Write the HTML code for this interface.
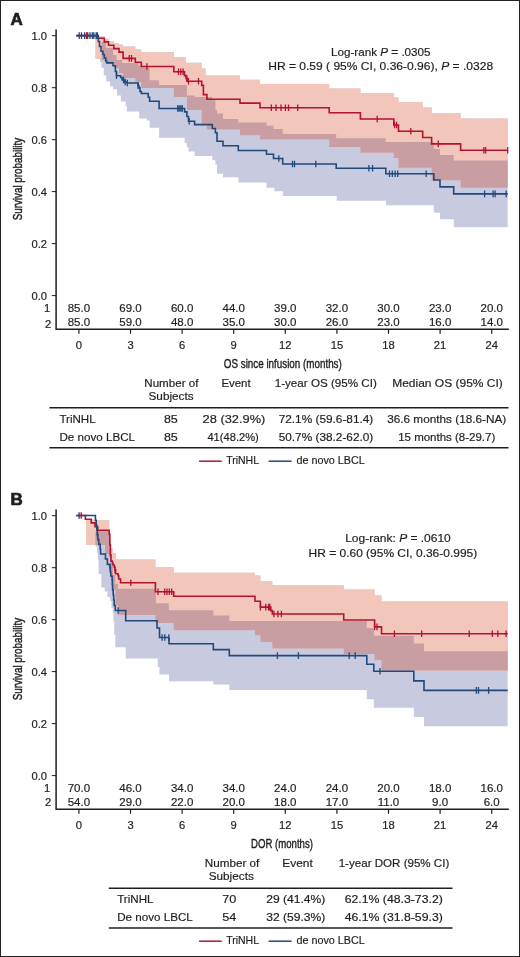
<!DOCTYPE html>
<html><head><meta charset="utf-8"><style>html,body{margin:0;padding:0;background:#fff;}svg{display:block;will-change:transform;}</style></head>
<body><svg width="520" height="957" viewBox="0 0 520 957" font-family='"Liberation Sans", sans-serif' fill="#1e1e1e">
<rect x="0.5" y="0.5" width="519" height="956" fill="#fff" stroke="#222" stroke-width="1"/>
<path d="M95.5,35.4H98.0V36.3H100.0V36.3H101.5V36.3H103.8V36.3H104.3V38.7H106.2V38.7H108.5V41.1H110.0V41.1H113.0V41.1H113.8V43.0H116.9V43.0H119.0V44.5H120.8V44.5H123.1V46.4H125.6V46.4H126.9V46.4H135.3V49.5H139.2V49.5H141.3V52.2H146.9V52.2H149.6V52.2H159.1V52.2H173.8V57.0H184.6V57.0H186.0V62.8H186.9V62.8H188.5V62.8H194.6V62.8H201.7V68.5H205.4V75.5H212.3V75.5H215.4V75.5H217.0V75.5H223.0V75.5H238.3V75.5H240.0V79.8H260.0V84.0H266.5V84.0H274.4V84.0H283.0V84.0H329.2V88.6H336.7V88.6H360.4V93.0H386.0V93.0H393.8V97.4H398.5V101.9H422.7V107.6H431.6V113.0H433.8V113.0H440.0V113.0H453.8V113.0H460.6V118.5H507.7V227.2H460.6V227.2H453.8V219.3H440.0V212.8H433.8V205.3H431.6V205.3H422.7V205.3H398.5V205.3H393.8V205.3H386.0V200.8H360.4V200.8H336.7V196.0H329.2V196.0H283.0V191.2H274.4V187.7H266.5V182.5H260.0V182.5H240.0V182.5H238.3V177.3H223.0V173.8H217.0V164.5H215.4V160.2H212.3V155.9H205.4V155.9H201.7V155.9H194.6V151.5H188.5V147.2H186.9V142.9H186.0V142.9H184.6V137.7H173.8V137.7H159.1V127.7H149.6V120.5H146.9V118.5H141.3V118.5H139.2V111.5H135.3V111.5H126.9V106.2H125.6V101.5H123.1V101.5H120.8V95.4H119.0V95.4H116.9V89.2H113.8V89.2H113.0V86.2H110.0V81.5H108.5V81.5H106.2V75.4H104.3V75.4H103.8V67.7H101.5V62.0H100.0V58.8H98.0V58.8H95.5Z" fill="#c8cae0"/>
<path d="M95.5,35.4H98.0V36.3H101.5V36.3H104.3V38.7H108.5V41.1H113.8V43.0H119.0V44.5H123.1V46.4H135.3V49.5H141.3V52.2H173.8V57.0H186.0V62.8H187.0V62.8H201.7V68.5H205.4V75.5H206.9V75.5H240.0V79.8H260.0V84.0H329.2V88.6H360.4V93.0H393.8V97.4H398.5V101.9H422.7V107.6H431.6V113.0H460.6V118.5H507.7V187.7H460.6V180.2H431.6V167.7H422.7V167.7H398.5V158.0H393.8V152.7H360.4V147.0H329.2V139.6H260.0V135.2H240.0V129.5H206.9V124.0H205.4V124.0H201.7V110.0H187.0V97.0H186.0V97.0H173.8V88.0H141.3V82.0H135.3V78.0H123.1V73.0H119.0V68.0H113.8V64.0H108.5V62.0H104.3V60.0H101.5V58.8H98.0V58.8H95.5Z" fill="#f2c6ba"/>
<path d="M101.5,42.0H104.3V42.0H105.8V48.0H108.5V48.0H113.0V55.0H113.8V55.0H116.5V60.0H119.0V60.0H122.1V63.0H123.1V63.0H135.3V63.0H138.1V65.5H141.3V65.5H141.4V67.5H149.6V80.2H159.1V85.0H173.8V85.0H186.9V95.5H187.0V95.5H194.6V97.0H201.7V97.0H206.9V97.0H212.3V100.3H215.4V110.0H217.0V113.4H223.0V118.9H238.3V122.6H240.0V122.6H260.0V122.6H266.5V125.7H273.5V128.9H282.7V134.0H329.2V134.0H336.2V138.3H360.4V138.3H385.8V142.0H393.8V142.0H398.5V142.0H431.6V142.0H433.8V149.0H440.0V155.1H453.7V160.5H460.6V160.5H507.7V187.7H460.6V180.2H453.7V180.2H440.0V180.2H433.8V180.2H431.6V167.7H398.5V158.0H393.8V152.7H385.8V152.7H360.4V147.0H336.2V147.0H329.2V139.6H282.7V139.6H273.5V139.6H266.5V139.6H260.0V135.2H240.0V129.5H238.3V129.5H223.0V129.5H217.0V129.5H215.4V129.5H212.3V129.5H206.9V124.0H201.7V110.0H194.6V110.0H187.0V97.0H186.9V97.0H173.8V88.0H159.1V88.0H149.6V88.0H141.4V88.0H141.3V82.0H138.1V82.0H135.3V78.0H123.1V73.0H122.1V73.0H119.0V68.0H116.5V68.0H113.8V64.0H113.0V64.0H108.5V62.0H105.8V62.0H104.3V60.0H101.5Z" fill="#c99ea3"/>
<path d="M76.3,35.6H98.0V38.3H104.3V41.9H108.5V45.3H113.8V48.6H119.0V52.1H123.1V58.4H135.3V62.3H141.3V66.5H173.8V71.7H184.5V75.6H186.0V78.5H187.0V81.2H201.7V85.4H203.4V94.6H206.9V99.2H240.0V103.1H260.0V107.7H329.2V112.8H360.4V119.0H393.8V125.0H398.5V131.3H422.7V137.5H431.6V143.9H460.6V150.3H507.7" stroke="#b31230" stroke-width="1.6" fill="none"/>
<path d="M76.3,35.6H98.3V41.5H99.5V46.5H101.0V51.3H102.9V54.5H104.3V58.0H105.8V61.0H106.7V62.9H113.0V65.8H115.4V71.5H116.5V75.7H120.7V77.5H122.1V80.0H124.3V82.0H127.0V83.0H138.1V85.8H139.0V87.7H140.0V91.5H141.4V93.5H148.2V97.3H149.6V101.2H159.1V108.5H184.6V111.9H186.9V116.5H188.5V121.2H194.6V124.6H212.3V128.5H215.4V132.7H217.0V141.2H223.0V145.8H238.3V150.5H266.5V154.3H273.5V158.5H282.7V164.0H336.2V168.3H385.8V173.8H433.8V180.0H440.0V186.9H453.7V193.9H507.7" stroke="#1f4a7b" stroke-width="1.6" fill="none"/>
<path d="M86.5,32.3V38.9M129.2,55.1V61.7M131.5,55.1V61.7M146.9,63.2V69.8M178.5,68.4V75.0M180.8,68.4V75.0M183.1,68.4V75.0M186.9,75.2V81.8M188.5,77.9V84.5M198.5,77.9V84.5M271.3,104.4V111.0M276.0,104.4V111.0M281.0,104.4V111.0M285.4,104.4V111.0M288.5,104.4V111.0M297.7,104.4V111.0M377.2,115.7V122.3M394.6,121.7V128.3M396.6,121.7V128.3M410.8,128.0V134.6M438.3,140.6V147.2M483.8,147.0V153.6M485.6,147.0V153.6M507.7,147.0V153.6" stroke="#b31230" stroke-width="1.3" fill="none"/>
<path d="M79.2,32.3V38.9M81.5,32.3V38.9M84.6,32.3V38.9M87.7,32.3V38.9M90.0,32.3V38.9M92.3,32.3V38.9M93.8,32.3V38.9M96.2,32.3V38.9M97.3,32.3V38.9M116.5,72.4V79.0M123.5,76.7V83.3M125.2,78.7V85.3M127.3,79.7V86.3M138.1,82.5V89.1M177.7,105.2V111.8M179.2,105.2V111.8M180.8,105.2V111.8M182.3,105.2V111.8M189.2,117.9V124.5M278.8,155.2V161.8M292.5,160.7V167.3M294.5,160.7V167.3M315.8,160.7V167.3M368.9,165.0V171.6M372.6,165.0V171.6M389.5,170.5V177.1M392.3,170.5V177.1M395.1,170.5V177.1M397.7,170.5V177.1M426.2,170.5V177.1M484.6,190.6V197.2M493.1,190.6V197.2M495.1,190.6V197.2M506.2,190.6V197.2" stroke="#1f4a7b" stroke-width="1.3" fill="none"/>
<path d="M86.0,519.6H93.7V520.3H95.8V520.3H97.2V520.3H97.9V520.3H98.6V520.3H101.3V520.3H104.7V520.3H107.4V520.3H109.2V540.0H110.1V540.0H111.0V548.0H111.5V548.0H112.6V553.0H112.9V553.0H113.5V553.0H114.2V553.0H115.3V553.0H115.8V559.5H125.7V559.5H155.4V567.3H157.7V567.3H159.5V567.3H169.0V567.3H173.7V572.7H213.3V572.7H229.3V572.7H255.0V575.6H260.4V581.0H272.3V585.2H343.7V589.6H366.8V589.6H373.8V589.6H374.6V595.4H381.5V601.5H413.8V601.5H424.0V601.5H507.7V726.2H424.0V716.9H413.8V707.7H381.5V707.7H374.6V707.7H373.8V699.3H366.8V690.0H343.7V690.0H272.3V690.0H260.4V690.0H255.0V690.0H229.3V684.5H213.3V681.3H173.7V681.3H169.0V674.6H159.5V667.0H157.7V658.5H155.4V658.5H125.7V647.3H115.8V647.3H115.3V635.1H114.2V621.5H113.5V613.4H112.9V608.0H112.6V608.0H111.5V601.1H111.0V601.1H110.1V597.1H109.2V597.1H107.4V591.6H104.7V587.6H101.3V574.0H98.6V560.4H97.9V553.6H97.2V546.8H95.8V542.7H93.7V542.7H86.0Z" fill="#c8cae0"/>
<path d="M86.0,519.6H93.7V520.3H95.4V520.3H105.0V520.3H109.2V540.0H111.0V548.0H112.6V553.0H113.0V553.0H115.5V553.0H115.8V559.5H118.0V559.5H155.4V567.3H173.7V572.7H255.0V575.6H260.4V581.0H272.3V585.2H343.7V589.6H374.6V595.4H381.5V601.5H507.7V670.4H381.5V660.0H374.6V654.0H343.7V648.5H272.3V641.9H260.4V635.2H255.0V630.3H173.7V623.0H155.4V615.0H118.0V605.0H115.8V605.0H115.5V590.0H113.0V575.0H112.6V575.0H111.0V558.0H109.2V554.0H105.0V545.0H95.4V545.0H93.7V545.0H86.0Z" fill="#f2c6ba"/>
<path d="M95.4,532.0H105.0V532.0H109.2V545.0H111.0V560.0H113.0V575.0H115.3V584.0H115.5V584.0H118.0V588.7H155.4V588.7H155.9V603.3H168.8V610.2H173.7V610.2H213.3V615.5H229.3V621.0H255.0V621.0H260.4V621.0H272.3V621.0H343.7V621.0H366.8V628.0H373.8V635.8H374.6V635.8H381.5V635.8H413.8V643.5H424.0V651.2H507.7V670.4H424.0V670.4H413.8V670.4H381.5V660.0H374.6V654.0H373.8V654.0H366.8V654.0H343.7V648.5H272.3V641.9H260.4V635.2H255.0V630.3H229.3V630.3H213.3V630.3H173.7V623.0H168.8V623.0H155.9V623.0H155.4V615.0H118.0V605.0H115.5V590.0H115.3V590.0H113.0V575.0H111.0V558.0H109.2V554.0H105.0V545.0H95.4Z" fill="#c99ea3"/>
<path d="M76.3,515.5H85.4V519.2H91.2V522.9H95.0V526.7H97.7V530.4H109.2V534.0H109.8V545.0H110.4V555.0H111.0V561.3H112.4V563.0H113.0V565.0H114.3V567.2H114.8V569.8H115.6V573.8H118.1V575.8H118.7V579.0H120.6V582.7H155.4V591.7H173.7V596.3H255.0V601.2H260.4V607.1H270.8V610.6H272.3V614.0H343.7V620.0H374.6V626.9H381.5V633.8H507.7" stroke="#b31230" stroke-width="1.6" fill="none"/>
<path d="M76.3,515.5H95.4V520.3H96.2V525.1H96.8V530.0H97.3V534.8H97.8V539.6H98.8V544.4H100.2V549.2H100.6V554.0H105.5V559.0H107.4V564.4H110.0V567.5H110.4V572.0H110.8V576.0H112.1V580.0H112.3V585.0H112.6V590.0H113.2V595.0H113.7V600.0H114.2V605.5H115.3V610.5H125.7V620.8H157.0V628.0H159.5V637.5H169.0V643.7H213.3V649.6H229.3V655.6H366.8V664.2H373.8V671.3H413.8V680.9H424.0V690.4H507.7" stroke="#1f4a7b" stroke-width="1.6" fill="none"/>
<path d="M81.2,512.2V518.8M115.0,566.5V573.1M130.8,579.4V586.0M158.0,588.4V595.0M164.7,588.4V595.0M167.0,588.4V595.0M169.3,588.4V595.0M171.7,588.4V595.0M260.4,603.8V610.4M265.8,603.8V610.4M268.5,603.8V610.4M269.8,603.8V610.4M273.9,610.7V617.3M277.9,610.7V617.3M281.4,610.7V617.3M374.6,623.6V630.2M377.0,623.6V630.2M394.4,630.5V637.1M421.7,630.5V637.1M469.2,630.5V637.1M492.3,630.5V637.1M497.8,630.5V637.1M506.1,630.5V637.1" stroke="#b31230" stroke-width="1.3" fill="none"/>
<path d="M79.1,512.2V518.8M97.5,531.5V538.1M110.2,564.2V570.8M118.2,607.2V613.8M162.1,634.2V640.8M164.8,634.2V640.8M168.8,634.2V640.8M277.4,652.3V658.9M298.4,652.3V658.9M349.2,652.3V658.9M355.2,652.3V658.9M380.0,668.0V674.6M476.3,687.1V693.7M478.5,687.1V693.7M488.6,687.1V693.7" stroke="#1f4a7b" stroke-width="1.3" fill="none"/>
<g stroke="#1e1e1e" stroke-width="0.18">
<text x="10.4" y="24.9" font-size="17.0" text-anchor="start" font-weight="bold" stroke-width="0.7">A</text>
<path d="M56.1,29.5 V329.3 H508.8" fill="none" stroke="#1e1e1e" stroke-width="1.5"/>
<path d="M51.8,35.7 H56" stroke="#1e1e1e" stroke-width="1"/>
<text x="47" y="39.600000000000044" font-size="11.2" text-anchor="end" >1.0</text>
<path d="M51.8,87.7 H56" stroke="#1e1e1e" stroke-width="1"/>
<text x="47" y="91.58000000000004" font-size="11.2" text-anchor="end" >0.8</text>
<path d="M51.8,139.7 H56" stroke="#1e1e1e" stroke-width="1"/>
<text x="47" y="143.56000000000006" font-size="11.2" text-anchor="end" >0.6</text>
<path d="M51.8,191.6 H56" stroke="#1e1e1e" stroke-width="1"/>
<text x="47" y="195.54000000000005" font-size="11.2" text-anchor="end" >0.4</text>
<path d="M51.8,243.6 H56" stroke="#1e1e1e" stroke-width="1"/>
<text x="47" y="247.52000000000004" font-size="11.2" text-anchor="end" >0.2</text>
<path d="M51.8,295.6 H56" stroke="#1e1e1e" stroke-width="1"/>
<text x="47" y="299.5" font-size="11.2" text-anchor="end" >0.0</text>
<path d="M78.9,329.3 V333.7" stroke="#1e1e1e" stroke-width="1.2"/>
<text x="78.9" y="348.6" font-size="11.2" text-anchor="middle" >0</text>
<text x="78.9" y="311.9" font-size="11.5" text-anchor="middle" >85.0</text>
<text x="78.9" y="325.5" font-size="11.5" text-anchor="middle" >85.0</text>
<path d="M130.5,329.3 V333.7" stroke="#1e1e1e" stroke-width="1.2"/>
<text x="130.5" y="348.6" font-size="11.2" text-anchor="middle" >3</text>
<text x="130.5" y="311.9" font-size="11.5" text-anchor="middle" >69.0</text>
<text x="130.5" y="325.5" font-size="11.5" text-anchor="middle" >59.0</text>
<path d="M182.1,329.3 V333.7" stroke="#1e1e1e" stroke-width="1.2"/>
<text x="182.1" y="348.6" font-size="11.2" text-anchor="middle" >6</text>
<text x="182.1" y="311.9" font-size="11.5" text-anchor="middle" >60.0</text>
<text x="182.1" y="325.5" font-size="11.5" text-anchor="middle" >48.0</text>
<path d="M233.7,329.3 V333.7" stroke="#1e1e1e" stroke-width="1.2"/>
<text x="233.7" y="348.6" font-size="11.2" text-anchor="middle" >9</text>
<text x="233.7" y="311.9" font-size="11.5" text-anchor="middle" >44.0</text>
<text x="233.7" y="325.5" font-size="11.5" text-anchor="middle" >35.0</text>
<path d="M285.3,329.3 V333.7" stroke="#1e1e1e" stroke-width="1.2"/>
<text x="285.3" y="348.6" font-size="11.2" text-anchor="middle" >12</text>
<text x="285.3" y="311.9" font-size="11.5" text-anchor="middle" >39.0</text>
<text x="285.3" y="325.5" font-size="11.5" text-anchor="middle" >30.0</text>
<path d="M336.9,329.3 V333.7" stroke="#1e1e1e" stroke-width="1.2"/>
<text x="336.9" y="348.6" font-size="11.2" text-anchor="middle" >15</text>
<text x="336.9" y="311.9" font-size="11.5" text-anchor="middle" >32.0</text>
<text x="336.9" y="325.5" font-size="11.5" text-anchor="middle" >26.0</text>
<path d="M388.5,329.3 V333.7" stroke="#1e1e1e" stroke-width="1.2"/>
<text x="388.5" y="348.6" font-size="11.2" text-anchor="middle" >18</text>
<text x="388.5" y="311.9" font-size="11.5" text-anchor="middle" >30.0</text>
<text x="388.5" y="325.5" font-size="11.5" text-anchor="middle" >23.0</text>
<path d="M440.1,329.3 V333.7" stroke="#1e1e1e" stroke-width="1.2"/>
<text x="440.1" y="348.6" font-size="11.2" text-anchor="middle" >21</text>
<text x="440.1" y="311.9" font-size="11.5" text-anchor="middle" >23.0</text>
<text x="440.1" y="325.5" font-size="11.5" text-anchor="middle" >16.0</text>
<path d="M491.7,329.3 V333.7" stroke="#1e1e1e" stroke-width="1.2"/>
<text x="491.7" y="348.6" font-size="11.2" text-anchor="middle" >24</text>
<text x="491.7" y="311.9" font-size="11.5" text-anchor="middle" >20.0</text>
<text x="491.7" y="325.5" font-size="11.5" text-anchor="middle" >14.0</text>
<text x="50.3" y="312.0" font-size="11.2" text-anchor="end" >1</text>
<text x="51.2" y="327.5" font-size="11.2" text-anchor="end" >2</text>
<text transform="translate(21.6,179.1) rotate(-90)" font-size="13.2" text-anchor="middle" textLength="82.5" lengthAdjust="spacingAndGlyphs" stroke="#1e1e1e" stroke-width="0.45">Survival probability</text>
<text x="223.8" y="367.6" font-size="13.4" textLength="118.0" lengthAdjust="spacingAndGlyphs" stroke="#1e1e1e" stroke-width="0.4">OS since infusion (months)</text>
<text x="331.0" y="56.0" font-size="11.4" textLength="99.6" lengthAdjust="spacingAndGlyphs" >Log-rank <tspan font-style="italic">P</tspan> = .0305</text>
<text x="268.2" y="70.0" font-size="11.4" textLength="224.9" lengthAdjust="spacingAndGlyphs" >HR = 0.59 ( 95% CI, 0.36-0.96), <tspan font-style="italic">P</tspan> = .0328</text>
<text x="10.4" y="504.9" font-size="17.0" text-anchor="start" font-weight="bold" stroke-width="0.7">B</text>
<path d="M56.1,509.5 V809.3 H508.8" fill="none" stroke="#1e1e1e" stroke-width="1.5"/>
<path d="M51.8,515.7 H56" stroke="#1e1e1e" stroke-width="1"/>
<text x="47" y="519.6" font-size="11.2" text-anchor="end" >1.0</text>
<path d="M51.8,567.7 H56" stroke="#1e1e1e" stroke-width="1"/>
<text x="47" y="571.58" font-size="11.2" text-anchor="end" >0.8</text>
<path d="M51.8,619.7 H56" stroke="#1e1e1e" stroke-width="1"/>
<text x="47" y="623.5600000000001" font-size="11.2" text-anchor="end" >0.6</text>
<path d="M51.8,671.6 H56" stroke="#1e1e1e" stroke-width="1"/>
<text x="47" y="675.5400000000001" font-size="11.2" text-anchor="end" >0.4</text>
<path d="M51.8,723.6 H56" stroke="#1e1e1e" stroke-width="1"/>
<text x="47" y="727.52" font-size="11.2" text-anchor="end" >0.2</text>
<path d="M51.8,775.6 H56" stroke="#1e1e1e" stroke-width="1"/>
<text x="47" y="779.5" font-size="11.2" text-anchor="end" >0.0</text>
<path d="M78.9,809.3 V813.7" stroke="#1e1e1e" stroke-width="1.2"/>
<text x="78.9" y="828.6" font-size="11.2" text-anchor="middle" >0</text>
<text x="78.9" y="791.9" font-size="11.5" text-anchor="middle" >70.0</text>
<text x="78.9" y="805.5" font-size="11.5" text-anchor="middle" >54.0</text>
<path d="M130.5,809.3 V813.7" stroke="#1e1e1e" stroke-width="1.2"/>
<text x="130.5" y="828.6" font-size="11.2" text-anchor="middle" >3</text>
<text x="130.5" y="791.9" font-size="11.5" text-anchor="middle" >46.0</text>
<text x="130.5" y="805.5" font-size="11.5" text-anchor="middle" >29.0</text>
<path d="M182.1,809.3 V813.7" stroke="#1e1e1e" stroke-width="1.2"/>
<text x="182.1" y="828.6" font-size="11.2" text-anchor="middle" >6</text>
<text x="182.1" y="791.9" font-size="11.5" text-anchor="middle" >34.0</text>
<text x="182.1" y="805.5" font-size="11.5" text-anchor="middle" >22.0</text>
<path d="M233.7,809.3 V813.7" stroke="#1e1e1e" stroke-width="1.2"/>
<text x="233.7" y="828.6" font-size="11.2" text-anchor="middle" >9</text>
<text x="233.7" y="791.9" font-size="11.5" text-anchor="middle" >34.0</text>
<text x="233.7" y="805.5" font-size="11.5" text-anchor="middle" >20.0</text>
<path d="M285.3,809.3 V813.7" stroke="#1e1e1e" stroke-width="1.2"/>
<text x="285.3" y="828.6" font-size="11.2" text-anchor="middle" >12</text>
<text x="285.3" y="791.9" font-size="11.5" text-anchor="middle" >24.0</text>
<text x="285.3" y="805.5" font-size="11.5" text-anchor="middle" >18.0</text>
<path d="M336.9,809.3 V813.7" stroke="#1e1e1e" stroke-width="1.2"/>
<text x="336.9" y="828.6" font-size="11.2" text-anchor="middle" >15</text>
<text x="336.9" y="791.9" font-size="11.5" text-anchor="middle" >24.0</text>
<text x="336.9" y="805.5" font-size="11.5" text-anchor="middle" >17.0</text>
<path d="M388.5,809.3 V813.7" stroke="#1e1e1e" stroke-width="1.2"/>
<text x="388.5" y="828.6" font-size="11.2" text-anchor="middle" >18</text>
<text x="388.5" y="791.9" font-size="11.5" text-anchor="middle" >20.0</text>
<text x="388.5" y="805.5" font-size="11.5" text-anchor="middle" >11.0</text>
<path d="M440.1,809.3 V813.7" stroke="#1e1e1e" stroke-width="1.2"/>
<text x="440.1" y="828.6" font-size="11.2" text-anchor="middle" >21</text>
<text x="440.1" y="791.9" font-size="11.5" text-anchor="middle" >18.0</text>
<text x="440.1" y="805.5" font-size="11.5" text-anchor="middle" >9.0</text>
<path d="M491.7,809.3 V813.7" stroke="#1e1e1e" stroke-width="1.2"/>
<text x="491.7" y="828.6" font-size="11.2" text-anchor="middle" >24</text>
<text x="491.7" y="791.9" font-size="11.5" text-anchor="middle" >16.0</text>
<text x="491.7" y="805.5" font-size="11.5" text-anchor="middle" >6.0</text>
<text x="50.3" y="792.0" font-size="11.2" text-anchor="end" >1</text>
<text x="51.2" y="805.7" font-size="11.2" text-anchor="end" >2</text>
<text transform="translate(21.6,659.1) rotate(-90)" font-size="13.2" text-anchor="middle" textLength="82.5" lengthAdjust="spacingAndGlyphs" stroke="#1e1e1e" stroke-width="0.45">Survival probability</text>
<text x="251.0" y="847.6" font-size="13.4" textLength="61.9" lengthAdjust="spacingAndGlyphs" stroke="#1e1e1e" stroke-width="0.4">DOR (months)</text>
<text x="345.2" y="541.8" font-size="11.4" textLength="105.6" lengthAdjust="spacingAndGlyphs" >Log-rank: <tspan font-style="italic">P</tspan> = .0610</text>
<text x="308.6" y="556.7" font-size="11.4" textLength="168.6" lengthAdjust="spacingAndGlyphs" >HR = 0.60 (95% CI, 0.36-0.995)</text>
<text x="144.3" y="387" font-size="11.4" textLength="54.1" lengthAdjust="spacingAndGlyphs" >Number of</text>
<text x="148.5" y="400.4" font-size="11.4" textLength="45.1" lengthAdjust="spacingAndGlyphs" >Subjects</text>
<text x="221.4" y="387" font-size="11.4" textLength="29.2" lengthAdjust="spacingAndGlyphs" >Event</text>
<text x="274.7" y="387" font-size="11.4" textLength="102.1" lengthAdjust="spacingAndGlyphs" >1-year OS (95% CI)</text>
<text x="392.2" y="387" font-size="11.4" textLength="110.6" lengthAdjust="spacingAndGlyphs" >Median OS (95% CI)</text>
<path d="M49.4,407.7 H508.5" stroke="#1e1e1e" stroke-width="1.5"/>
<path d="M49.4,447.8 H508.5" stroke="#1e1e1e" stroke-width="1.5"/>
<text x="59.4" y="423.3" font-size="11.4" textLength="36.2" lengthAdjust="spacingAndGlyphs" >TriNHL</text>
<text x="59.4" y="440.8" font-size="11.4" textLength="75.7" lengthAdjust="spacingAndGlyphs" >De novo LBCL</text>
<text x="163.9" y="423.3" font-size="11.4" textLength="13.9" lengthAdjust="spacingAndGlyphs" >85</text>
<text x="163.9" y="440.8" font-size="11.4" textLength="13.9" lengthAdjust="spacingAndGlyphs" >85</text>
<text x="202.6" y="423.3" font-size="11.4" textLength="62.7" lengthAdjust="spacingAndGlyphs" >28 (32.9%)</text>
<text x="207.4" y="440.8" font-size="11.4" textLength="51.4" lengthAdjust="spacingAndGlyphs" >41(48.2%)</text>
<text x="278.7" y="423.3" font-size="11.4" textLength="94.6" lengthAdjust="spacingAndGlyphs" >72.1% (59.6-81.4)</text>
<text x="278.7" y="440.8" font-size="11.4" textLength="94.6" lengthAdjust="spacingAndGlyphs" >50.7% (38.2-62.0)</text>
<text x="387.2" y="423.3" font-size="11.4" textLength="119.1" lengthAdjust="spacingAndGlyphs" >36.6 months (18.6-NA)</text>
<text x="398.2" y="440.8" font-size="11.4" textLength="97.1" lengthAdjust="spacingAndGlyphs" >15 months (8-29.7)</text>
<text x="204.7" y="866.6" font-size="11.4" textLength="54.6" lengthAdjust="spacingAndGlyphs" >Number of</text>
<text x="208.7" y="880" font-size="11.4" textLength="45.1" lengthAdjust="spacingAndGlyphs" >Subjects</text>
<text x="282.2" y="866.6" font-size="11.4" textLength="30.6" lengthAdjust="spacingAndGlyphs" >Event</text>
<text x="338.7" y="866.6" font-size="11.4" textLength="110.6" lengthAdjust="spacingAndGlyphs" >1-year DOR (95% CI)</text>
<path d="M108.75,888.3 H452.5" stroke="#1e1e1e" stroke-width="1.5"/>
<path d="M108.75,928 H452.5" stroke="#1e1e1e" stroke-width="1.5"/>
<text x="117.2" y="903.3" font-size="11.4" textLength="36.4" lengthAdjust="spacingAndGlyphs" >TriNHL</text>
<text x="117.2" y="920.8" font-size="11.4" textLength="75.6" lengthAdjust="spacingAndGlyphs" >De novo LBCL</text>
<text x="222.2" y="903.3" font-size="11.4" textLength="14.1" lengthAdjust="spacingAndGlyphs" >70</text>
<text x="222.2" y="920.8" font-size="11.4" textLength="14.1" lengthAdjust="spacingAndGlyphs" >54</text>
<text x="266.2" y="903.3" font-size="11.4" textLength="59.1" lengthAdjust="spacingAndGlyphs" >29 (41.4%)</text>
<text x="266.2" y="920.8" font-size="11.4" textLength="59.1" lengthAdjust="spacingAndGlyphs" >32 (59.3%)</text>
<text x="344.7" y="903.3" font-size="11.4" textLength="98.1" lengthAdjust="spacingAndGlyphs" >62.1% (48.3-73.2)</text>
<text x="344.7" y="920.8" font-size="11.4" textLength="98.1" lengthAdjust="spacingAndGlyphs" >46.1% (31.8-59.3)</text>
<path d="M199.1,461.2 H221.8" stroke="#b31230" stroke-width="1.5"/>
<path d="M268.6,461.2 H291.6" stroke="#1f4a7b" stroke-width="1.5"/>
<text x="226.2" y="464.4" font-size="10.8" textLength="32.8" lengthAdjust="spacingAndGlyphs" >TriNHL</text>
<text x="296.4" y="464.4" font-size="10.8" textLength="68.5" lengthAdjust="spacingAndGlyphs" >de novo LBCL</text>
<path d="M199.1,941.2 H221.8" stroke="#b31230" stroke-width="1.5"/>
<path d="M268.6,941.2 H291.6" stroke="#1f4a7b" stroke-width="1.5"/>
<text x="226.2" y="944.4" font-size="10.8" textLength="32.8" lengthAdjust="spacingAndGlyphs" >TriNHL</text>
<text x="296.4" y="944.4" font-size="10.8" textLength="68.5" lengthAdjust="spacingAndGlyphs" >de novo LBCL</text>
</g>
</svg></body></html>
